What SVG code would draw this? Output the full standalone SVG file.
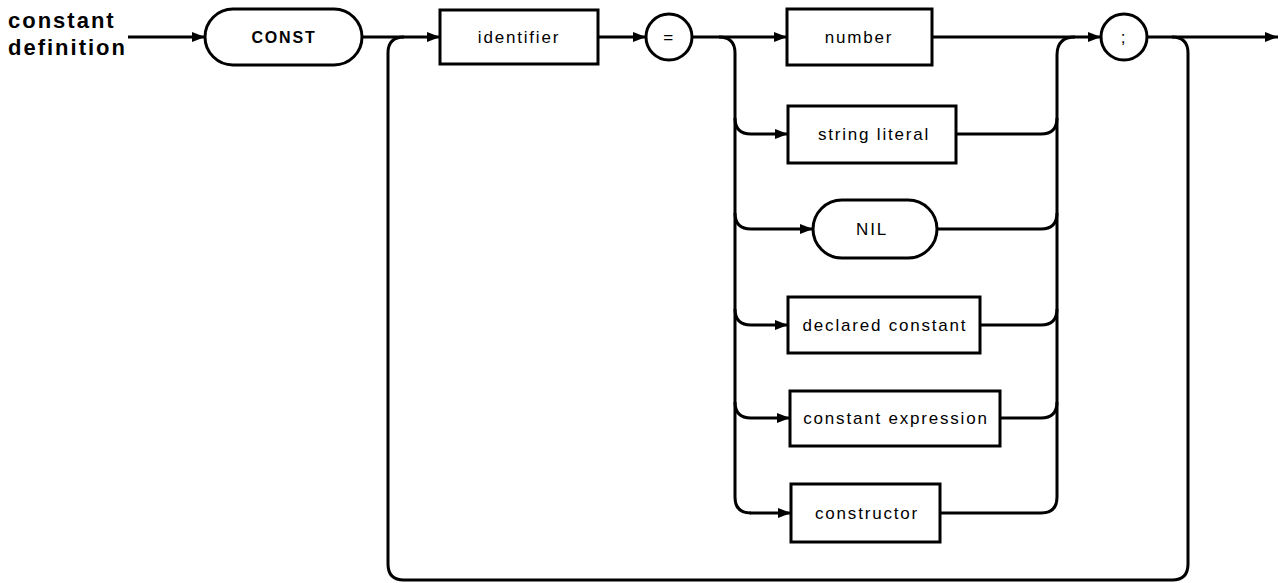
<svg xmlns="http://www.w3.org/2000/svg" width="1281" height="583" viewBox="0 0 1281 583">
  <style>
    .title { font-family: "Liberation Sans", Arial, sans-serif; font-size: 22px; font-weight: bold; letter-spacing: 2px; fill: #000; }
    .lbl { font-family: "Liberation Sans", Arial, sans-serif; font-size: 17px; letter-spacing: 1.8px; fill: #000; text-anchor: middle; dominant-baseline: central; }
    .shape { fill: #fff; stroke: #000; stroke-width: 3; }
    .wire { fill: none; stroke: #000; stroke-width: 3; }
  </style>
  <defs>
    <marker id="arrow" viewBox="0 0 13 10" refX="13" refY="5" markerWidth="13" markerHeight="10" markerUnits="userSpaceOnUse" orient="auto">
      <path d="M0,0 L13,5 L0,10 Z" fill="#000"/>
    </marker>
  </defs>
  <rect width="1281" height="583" fill="#fff"/>

  <text class="title" x="8" y="28">constant</text>
  <text class="title" x="8" y="55">definition</text>

  <g id="connectors">
    <!-- main line -->
    <line class="wire" x1="128" y1="37" x2="205" y2="37" marker-end="url(#arrow)"/>
    <line class="wire" x1="362" y1="37" x2="440" y2="37" marker-end="url(#arrow)"/>
    <line class="wire" x1="598" y1="37" x2="646" y2="37" marker-end="url(#arrow)"/>
    <line class="wire" x1="692" y1="37" x2="787" y2="37" marker-end="url(#arrow)"/>
    <line class="wire" x1="932" y1="37" x2="1101" y2="37" marker-end="url(#arrow)"/>
    <line class="wire" x1="1146" y1="37" x2="1278" y2="37" marker-end="url(#arrow)"/>

    <!-- repeat loop back to identifier -->
    <path class="wire" d="M1172,37 Q1188,37 1188,53 L1188,564 Q1188,580 1172,580 L404,580 Q388,580 388,564 L388,53 Q388,37 404,37"/>

    <!-- alternatives: fan-out -->
    <path class="wire" d="M719,37 Q735,37 735,53 L735,497 Q735,513 751,513"/>
    <path class="wire" d="M735,118 Q735,134 751,134 L788,134" marker-end="url(#arrow)"/>
    <path class="wire" d="M735,213 Q735,229 751,229 L813,229" marker-end="url(#arrow)"/>
    <path class="wire" d="M735,309 Q735,325 751,325 L788,325" marker-end="url(#arrow)"/>
    <path class="wire" d="M735,402 Q735,418 751,418 L790,418" marker-end="url(#arrow)"/>
    <line class="wire" x1="750" y1="513" x2="791" y2="513" marker-end="url(#arrow)"/>

    <!-- alternatives: fan-in -->
    <path class="wire" d="M1075,37 Q1057,37 1057,55 L1057,497 Q1057,513 1041,513 L940,513"/>
    <path class="wire" d="M1057,118 Q1057,134 1041,134 L956,134"/>
    <path class="wire" d="M1057,213 Q1057,229 1041,229 L937,229"/>
    <path class="wire" d="M1057,309 Q1057,325 1041,325 L980,325"/>
    <path class="wire" d="M1057,402 Q1057,418 1041,418 L1000,418"/>
  </g>

  <g id="const">
    <rect class="shape" x="205" y="9" width="157" height="56" rx="28"/>
    <text class="lbl" x="284" y="37" style="font-weight:bold;font-size:16px">CONST</text>
  </g>
  <g id="identifier">
    <rect class="shape" x="440" y="10" width="158" height="54"/>
    <text class="lbl" x="519" y="37">identifier</text>
  </g>
  <g id="equals">
    <circle class="shape" cx="669" cy="37" r="23"/>
    <text class="lbl" x="669" y="37">=</text>
  </g>
  <g id="number">
    <rect class="shape" x="787" y="9" width="145" height="56"/>
    <text class="lbl" x="859" y="37">number</text>
  </g>
  <g id="semicolon">
    <circle class="shape" cx="1124" cy="37" r="23"/>
    <text class="lbl" x="1124" y="37">;</text>
  </g>
  <g id="string-literal">
    <rect class="shape" x="788" y="106" width="168" height="57"/>
    <text class="lbl" x="874" y="134">string literal</text>
  </g>
  <g id="nil">
    <rect class="shape" x="813" y="200" width="124" height="58" rx="29"/>
    <text class="lbl" x="872" y="229">NIL</text>
  </g>
  <g id="declared-constant">
    <rect class="shape" x="788" y="297" width="192" height="56"/>
    <text class="lbl" x="885" y="325">declared constant</text>
  </g>
  <g id="constant-expression">
    <rect class="shape" x="790" y="391" width="210" height="55"/>
    <text class="lbl" x="896" y="418">constant expression</text>
  </g>
  <g id="constructor">
    <rect class="shape" x="791" y="484" width="149" height="58"/>
    <text class="lbl" x="867" y="513">constructor</text>
  </g>
</svg>
